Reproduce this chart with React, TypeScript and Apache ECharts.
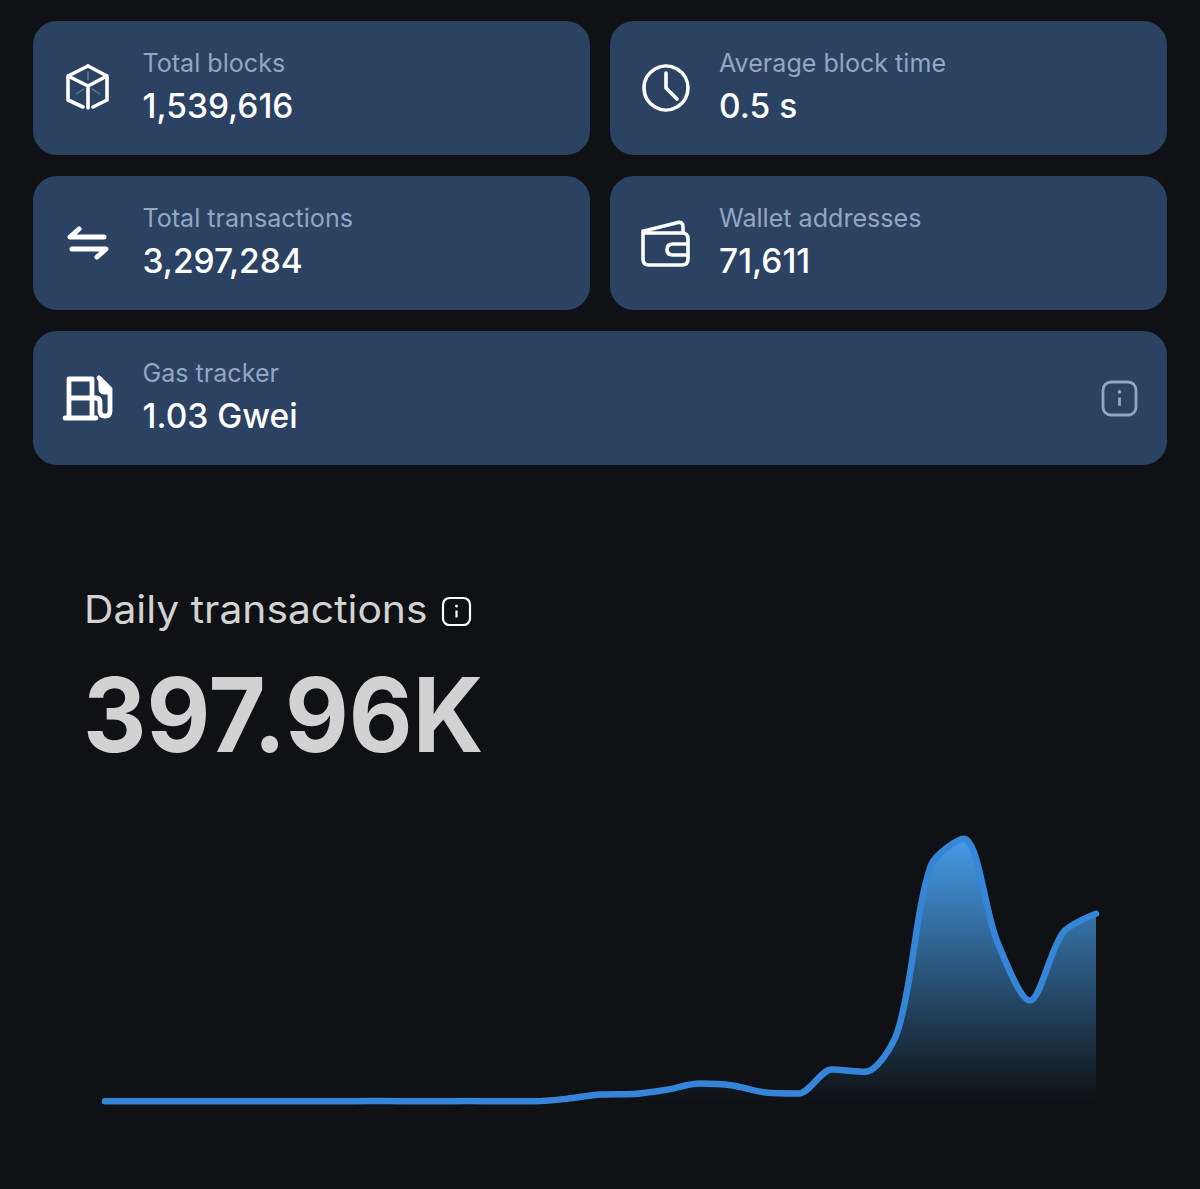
import React, { useEffect, useRef } from "react";
import * as echarts from "echarts";

const days = ["1","2","3","4","5","6","7","8","9","10","11","12","13","14","15","16","17","18","19","20","21","22","23","24","25","26","27","28","29","30","31"];
const dailyTransactionsK = [0.3,0.3,0.3,0.3,0.3,0.3,0.3,0.3,1.2,0.5,0.5,0.8,0.6,0.5,6,15,16,25,38,34,19,17,68,63,150,500,557,341,214,358,397.96];

const topLabels = ["Total blocks", "Average block time", "Total transactions", "Wallet addresses", "Gas tracker"];
const topValues = ["1,539,616", "0.5 s", "3,297,284", "71,611", "1.03 Gwei"];
const chartTitle = "Daily transactions";
const chartValue = "397.96K";

const BG = "#0f1114";
const CARD = "#2b4263";
const MUTED = "#93a6c2";
const WHITE = "#ffffff";

const cube = "M88 66L107 76V100L93 107M83 107L68 100V76L88 66M68 76L88 86L107 76M88 86V108";
const cubeDash = "M88 72V80M76 94L84 89M100 94L92 89";
const arrows = "M104 237H70L79 229M72 249H106L97 257";
const hands = "M666 73V88L677 99";
const wallet = "M644 231L678 222.5Q683 221.5 683 227V233M643 233V259Q643 265 649 265H682Q688 265 688 259V239Q688 233 682 233H645Q643 233 643 231ZM688 244H673Q667 244 667 249.5Q667 255 673 255H688";
const gas = "M69 418V379H92V418M69 398H92M65 418H96M92 398H96Q100 398 100 403V411Q100 416 105 416Q110 416 110 411V389L99 378";
const nozzle = "M99 376L111 388V394H104Q99 394 99 389Z";

function shape(name: string, d: string, stroke: string, lineWidth: number, fill = "none") {
  try { echarts.graphic.registerShape(name, echarts.graphic.extendPath(d, {})); } catch (e) {}
  return { type: name, x: 0, y: 0, style: { stroke, lineWidth, fill, lineCap: "round", lineJoin: "round" } };
}

function card(x: number, y: number, width: number) {
  return { type: "rect", shape: { x, y, width, height: 134, r: 24 }, style: { fill: CARD } };
}

function text(t: string, x: number, y: number, fontSize: number, fill: string, fontWeight: number | string = 400, scaleX = 1) {
  return { type: "text", x, y, scaleX, style: { text: t, fontSize, fontWeight, fontFamily: "Inter", fill, verticalAlign: "middle", align: "left" } };
}

function infoIcon(x: number, y: number, size: number, stroke: string, lineWidth: number) {
  const cx = x + size / 2;
  const cy = y + size / 2;
  return [
    { type: "rect", shape: { x, y, width: size, height: size, r: size * 0.24 }, style: { fill: "none", stroke, lineWidth } },
    { type: "line", shape: { x1: cx, y1: cy - 1, x2: cx, y2: cy + size * 0.22 }, style: { stroke, lineWidth } },
    { type: "circle", shape: { cx, cy: cy - size * 0.2, r: lineWidth * 0.65 }, style: { fill: stroke } },
  ];
}

export default function App() {
  const ref = useRef<HTMLDivElement>(null);
  useEffect(() => {
    const chart = echarts.init(ref.current!, undefined, { renderer: "svg" });
    const rows = [63, 218, 373];
    const graphicElements: any[] = [
      card(33, 21, 557), card(610, 21, 557),
      card(33, 176, 557), card(610, 176, 557),
      card(33, 331, 1134),
      text(topLabels[0], 142.5, rows[0], 25.1, MUTED),
      text(topValues[0], 142.5, rows[0] + 42.5, 33.5, WHITE, 500),
      text(topLabels[1], 719, rows[0], 25.1, MUTED),
      text(topValues[1], 719, rows[0] + 42.5, 33.5, WHITE, 500),
      text(topLabels[2], 142.5, rows[1], 25.1, MUTED),
      text(topValues[2], 142.5, rows[1] + 42.5, 33.5, WHITE, 500),
      text(topLabels[3], 719, rows[1], 25.1, MUTED),
      text(topValues[3], 719, rows[1] + 42.5, 33.5, WHITE, 500),
      text(topLabels[4], 142.5, rows[2], 25.1, MUTED),
      text(topValues[4], 142.5, rows[2] + 42.5, 33.5, WHITE, 500),
      shape("cubeIcon", cube, WHITE, 3.6),
      shape("cubeDashIcon", cubeDash, "#7f93b0", 1),
      shape("arrowsIcon", arrows, WHITE, 5),
      { type: "circle", shape: { cx: 666, cy: 88, r: 22 }, style: { fill: "none", stroke: WHITE, lineWidth: 3.6 } },
      shape("handsIcon", hands, WHITE, 3.6),
      shape("walletIcon", wallet, WHITE, 3.6),
      shape("gasIcon", gas, WHITE, 4.8),
      shape("nozzleIcon", nozzle, WHITE, 1, WHITE),
      ...infoIcon(1103, 382, 33, MUTED, 2.8),
      text(chartTitle, 84, 609, 38.5, "#d2d2d3", 400, 1.06),
      ...infoIcon(443, 598, 27, WHITE, 2.2),
      text(chartValue, 83, 714, 103, "#d2d2d3", 700, 0.955),
    ];
    chart.setOption({
      animation: false,
      backgroundColor: BG,
      graphic: { elements: graphicElements },
      grid: { left: 105, top: 818.5, width: 991, height: 283 },
      xAxis: { type: "category", data: days, boundaryGap: false, show: false },
      yAxis: { type: "value", min: 0, max: 600, show: false },
      series: [{
        type: "line",
        data: dailyTransactionsK,
        smooth: 0.3,
        symbol: "none",
        clip: false,
        lineStyle: { color: "#3585d9", width: 6.5, cap: "round", join: "round" },
        areaStyle: {
          opacity: 1,
          color: new echarts.graphic.LinearGradient(0, 0, 0, 1, [
            { offset: 0, color: "rgba(70,155,230,1)" },
            { offset: 1, color: "rgba(70,155,230,0)" },
          ]),
        },
      }],
    });
    return () => chart.dispose();
  }, []);
  return <div ref={ref} style={{ position: "fixed", left: 0, top: 0, width: 1200, height: 1189 }} />;
}
